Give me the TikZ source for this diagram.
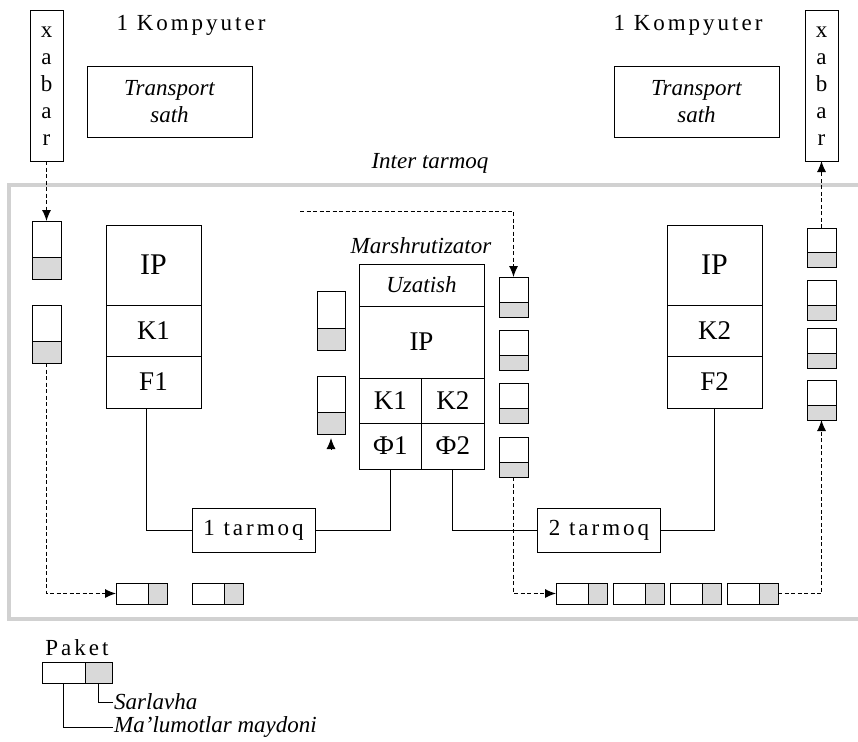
\documentclass[tikz,border=0pt]{standalone}
\usepackage{fontspec}
\setmainfont{Liberation Serif}
\newfontfamily\widefont{Liberation Serif}[LetterSpace=13]
\usetikzlibrary{positioning,arrows.meta}
\definecolor{light-gray}{gray}{0.85}
\definecolor{frame-gray}{gray}{0.82}
\newcommand{\agtext}{\fontsize{23}{27}\selectfont}
\newcommand{\aglayertext}{\fontsize{27}{30}\selectfont}
\newcommand{\agiptext}{\fontsize{30}{32}\selectfont}
\tikzstyle{boxstyle}=[shape=rectangle,draw,line width=1pt,inner sep=0pt,outer sep=0pt]
\tikzstyle{datastyle}=[boxstyle,fill=white]
\tikzstyle{headstyle}=[boxstyle,fill=light-gray]
\tikzstyle{layerstyle}=[boxstyle,font=\aglayertext]
\tikzstyle{labelstyle}=[font=\agtext\widefont]
\tikzstyle{italstyle}=[font=\agtext\itshape]
\tikzstyle{legendstyle}=[italstyle,anchor=west,inner sep=1pt]
\tikzstyle{xabarstyle}=[boxstyle,font=\agtext,align=center,minimum width=33pt,minimum height=150pt]
\tikzstyle{sathstyle}=[boxstyle,font=\agtext\itshape,align=center,minimum width=165pt,minimum height=70pt]
\tikzstyle{netstyle}=[boxstyle,font=\agtext\widefont,minimum width=123pt,minimum height=44pt]
\tikzstyle{wirestyle}=[line width=1pt]
\tikzstyle{flowstyle}=[line width=1pt,dash pattern=on 4pt off 2.5pt,-{Latex[length=11pt,width=9pt]}]
\tikzstyle{framestyle}=[line width=3.5pt,frame-gray]
\newcommand{\agvpacket}[6]{ \node [datastyle,anchor=north west,minimum width=#4pt,minimum height=#5pt] (#1) at (#2,#3) {}; \node [headstyle,below=0pt of #1,minimum width=#4pt,minimum height=#6pt] (#1h) {}; }
\newcommand{\aghpacket}[5]{ \node [datastyle,anchor=north west,minimum width=#4pt,minimum height=21pt] (#1) at (#2,#3) {}; \node [headstyle,right=0pt of #1,minimum width=#5pt,minimum height=21pt] (#1h) {}; }
\newcommand{\aghost}[5]{ \node [layerstyle,anchor=north west,minimum width=95pt,minimum height=80pt,font=\agiptext] (#1ip) at (#2,#3) {IP}; \node [layerstyle,below=0pt of #1ip,minimum width=95pt,minimum height=51pt] (#1k) {#4}; \node [layerstyle,below=0pt of #1k,minimum width=95pt,minimum height=52pt] (#1f) {#5}; }

\begin{document}
\begin{tikzpicture}[x=1pt,y=-1pt]
\useasboundingbox (0,0) rectangle (858,741);
\draw [framestyle] (858,185) -| (9,619) -- (858,619); %
\node [italstyle] (inter) at (430,163) {Inter tarmoq}; %
% computers
\node [xabarstyle] (xabarl) at (46.5,86) {x\\a\\b\\a\\r}; %
\node [xabarstyle] (xabarr) at (821.5,86) {x\\a\\b\\a\\r}; %
\node [labelstyle] (compl) at (191,25) {1 Kompyuter}; %
\node [labelstyle] (compr) at (688,25) {1 Kompyuter}; %
\node [sathstyle] (sathl) at (169.5,102) {Transport\\sath}; %
\node [sathstyle] (sathr) at (696.5,102) {Transport\\sath}; %
% hosts
\aghost{hl}{106}{225}{K1}{F1} %
\aghost{hr}{667}{225}{K2}{F2} %
% router
\node [italstyle] (rname) at (421,246) {Marshrutizator}; %
\node [layerstyle,anchor=north west,minimum width=125pt,minimum height=42pt,font=\agtext\itshape] (ruz) at (359,264) {Uzatish}; %
\node [layerstyle,below=0pt of ruz,minimum width=125pt,minimum height=72pt] (rip) {IP}; %
\node [layerstyle,anchor=north west,minimum width=62.5pt,minimum height=45pt] (rk1) at (rip.south west) {K1}; %
\node [layerstyle,anchor=north east,minimum width=62.5pt,minimum height=45pt] (rk2) at (rip.south east) {K2}; %
\node [layerstyle,below=0pt of rk1,minimum width=62.5pt,minimum height=46pt] (rf1) {Ф1}; %
\node [layerstyle,below=0pt of rk2,minimum width=62.5pt,minimum height=46pt] (rf2) {Ф2}; %
% networks
\node [netstyle] (net1) at (253.5,530) {1 tarmoq}; %
\node [netstyle] (net2) at (599,530) {2 tarmoq}; %
\draw [wirestyle] ([xshift=-7pt]hlf.south) |- (net1.west); %
\draw [wirestyle] (net1.east) -| (rf1.south); %
\draw [wirestyle] (rf2.south) |- (net2.west); %
\draw [wirestyle] (net2.east) -| (hrf.south); %
% packets
\agvpacket{lp1}{32}{221}{29}{36}{22} %
\agvpacket{lp2}{32}{305}{29}{36}{22} %
\agvpacket{rl1}{317}{291}{28}{37}{22} %
\agvpacket{rl2}{317}{376}{28}{36}{22} %
\agvpacket{rr1}{499}{277}{29}{25}{15} %
\agvpacket{rr2}{499}{330}{29}{25}{15} %
\agvpacket{rr3}{499}{383}{29}{25}{15} %
\agvpacket{rr4}{499}{437}{29}{25}{15} %
\agvpacket{rp1}{807}{228}{29}{24}{15} %
\agvpacket{rp2}{807}{280}{29}{25}{15} %
\agvpacket{rp3}{807}{328}{29}{25}{15} %
\agvpacket{rp4}{807}{380}{29}{25}{15} %
\aghpacket{bl1}{116}{583}{32}{19} %
\aghpacket{bl2}{192}{583}{32}{19} %
\aghpacket{br1}{556}{583}{32}{19} %
\aghpacket{br2}{613}{583}{32}{19} %
\aghpacket{br3}{670}{583}{32}{19} %
\aghpacket{br4}{727}{583}{32}{19} %
% packet flow
\coordinate (rin) at (300,211); %
\draw [flowstyle] (xabarl.south) -- (lp1.north); %
\draw [flowstyle] (lp2h.south) |- (bl1.west); %
\draw [flowstyle] ([yshift=-15pt]rl2h.south) -- ([yshift=-4pt]rl2h.south); %
\draw [flowstyle] (rin) -| (rr1.north); %
\draw [flowstyle] (rr4h.south) |- (br1.west); %
\draw [flowstyle] (br4h.east) -| (rp4h.south); %
\draw [flowstyle] (rp1.north) -- (xabarr.south); %
% legend
\node [labelstyle] (paket) at (77,648) {Paket}; %
\aghpacket{lg}{42}{662}{43}{27} %
\node [legendstyle] (sarl) at (113,702) {Sarlavha}; %
\node [legendstyle] (malu) at (113,727) {Ma’lumotlar maydoni}; %
\draw [wirestyle] (lgh.south) |- (sarl.west); %
\draw [wirestyle] (lg.south) |- (malu.west); %
\end{tikzpicture}
\end{document}
